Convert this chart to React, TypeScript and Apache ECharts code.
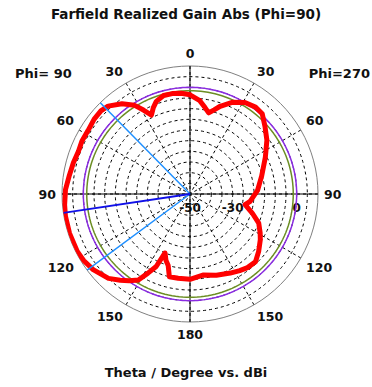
import React, { useEffect, useRef } from "react";
import * as echarts from "echarts";

// Radial scale (dBi) and the labelled radial ticks
const radialMin = -50;
const radialMax = 10;
const radialStep = 5;
const radialLabels = [-50, -30, 0];

// Theta tick labels shown on each half
const thetaStep = 30;

// Phi = 270 half (right side), theta in degrees, realized gain in dBi
const thetaPhi270 = [0, 6, 10, 13, 16, 19, 25, 31, 37, 42, 48, 55, 64, 76, 87, 97, 101, 107, 113, 119, 123, 130, 136, 142, 147, 153, 162, 171, 180];
const gainPhi270 = [-3.5, -6, -9, -11, -9, -6.5, -2.5, 0, 1.0, 0.6, -2.7, -6, -10.7, -15.4, -18.3, -21.6, -23.7, -19.5, -15, -12.4, -10.7, -8, -5.8, -6.2, -7.2, -8.4, -10, -11.5, -10];

// Phi = 90 half (left side)
const thetaPhi90 = [0, 5, 10, 15, 20, 23, 26, 29, 32, 37, 43, 47, 52, 58, 64, 69, 75, 81, 88, 95, 100, 108, 117, 122, 128, 136, 141, 145, 149, 152, 155, 157, 160, 163, 166, 172, 180];
const gainPhi90 = [-3.5, -2.6, -2.2, -2.2, -3.8, -6, -8.8, -5, -1, 3, 6.3, 7.1, 7, 6.3, 6.4, 6, 6.6, 7.2, 8.4, 9.0, 9.3, 9.4, 9.3, 8.8, 7.6, 5, 2, -0.3, -3, -8, -12.5, -20, -17, -15, -10, -10.1, -9.9];

// Main lobe direction and 3 dB angular width (phi = 90 side)
const mainLobeTheta = 98.5;
const beamEdgeThetas = [44.5, 126.5];

// Reference level circles (dBi)
const purpleLevel = 0;
const greenLevel = -1.6;

// angle sampling for reference circles
const circleAngles = Array.from({ length: 181 }, (_, i) => i * 2);

// convert (theta, half) to the angle axis value (axis starts at east, clockwise)
const toAxisAngle = (u: number) => (((u + 270) % 360) + 360) % 360;
const rightAngle = (theta: number) => toAxisAngle(theta);
const leftAngle = (theta: number) => toAxisAngle(360 - theta);

export default function App() {
  const ref = useRef<HTMLDivElement>(null);
  useEffect(() => {
    if (!ref.current) return;
    const chart = echarts.init(ref.current, null, { renderer: "svg" });

    const redData: number[][] = [];
    thetaPhi270.forEach((t, i) => redData.push([gainPhi270[i], rightAngle(t)]));
    for (let i = thetaPhi90.length - 1; i >= 0; i--) {
      redData.push([gainPhi90[i], leftAngle(thetaPhi90[i])]);
    }

    const ringCount = (radialMax - radialMin) / radialStep + 1;
    const ringColors = Array.from({ length: ringCount }, (_, i) =>
      i === ringCount - 1 ? "transparent" : "#000"
    );

    const font = "DejaVu Sans";

    const circle = (level: number) => circleAngles.map((a) => [level, a]);
    const radial = (a: number) => [
      [radialMax, a],
      [radialMin, a],
    ];

    chart.setOption({
      animation: false,
      backgroundColor: "#fff",
      title: [
        {
          text: "Farfield Realized Gain Abs (Phi=90)",
          left: "center",
          top: 7,
          padding: 0,
          textStyle: { fontFamily: font, fontWeight: "bold", fontSize: 13.5, color: "#111" },
        },
        {
          text: "Phi= 90",
          left: 15,
          top: 67,
          padding: 0,
          textStyle: { fontFamily: font, fontWeight: "bold", fontSize: 13, color: "#111" },
        },
        {
          text: "Phi=270",
          right: 2,
          top: 67,
          padding: 0,
          textStyle: { fontFamily: font, fontWeight: "bold", fontSize: 13, color: "#111" },
        },
        {
          text: "Theta / Degree vs. dBi",
          left: "center",
          top: 366,
          padding: 0,
          textStyle: { fontFamily: font, fontWeight: "bold", fontSize: 13, color: "#111" },
        },
      ],
      polar: { center: [190, 194], radius: 128 },
      angleAxis: {
        type: "value",
        min: 0,
        max: 360,
        interval: thetaStep,
        startAngle: 0,
        clockwise: true,
        axisLine: { show: true, lineStyle: { color: "#808080", width: 1 } },
        axisTick: { show: false },
        axisLabel: {
          margin: 6,
          color: "#111",
          fontFamily: font,
          fontWeight: "bold",
          fontSize: 12.5,
          formatter: (v: number) => {
            const u = (v + 90) % 360;
            return String(u <= 180 ? u : 360 - u);
          },
        },
        splitLine: { show: true, lineStyle: { color: "#000", type: [3, 3], width: 1 } },
      },
      radiusAxis: {
        type: "value",
        min: radialMin,
        max: radialMax,
        interval: radialStep,
        axisLine: { show: false },
        axisTick: { show: false },
        axisLabel: {
          color: "#111",
          fontFamily: font,
          fontWeight: "bold",
          fontSize: 12,
          margin: -8,
          verticalAlign: "top",
          align: "center",
          formatter: (v: number) => (radialLabels.includes(v) ? String(v) : ""),
        },
        splitLine: { show: true, lineStyle: { color: ringColors, type: [3, 3], width: 1 } },
      },
      series: [
        {
          type: "line",
          coordinateSystem: "polar",
          data: [radial(rightAngle(0))[0], [radialMin, 0], radial(rightAngle(180))[0]],
          symbol: "none",
          lineStyle: { color: "#000", width: 1 },
          z: 2,
        },
        {
          type: "line",
          coordinateSystem: "polar",
          data: [radial(rightAngle(90))[0], [radialMin, 0], radial(leftAngle(90))[0]],
          symbol: "none",
          lineStyle: { color: "#000", width: 1 },
          z: 2,
        },
        {
          type: "line",
          coordinateSystem: "polar",
          data: circle(greenLevel),
          symbol: "none",
          lineStyle: { color: "#6b8e23", width: 1.5 },
          z: 3,
        },
        {
          type: "line",
          coordinateSystem: "polar",
          data: circle(purpleLevel),
          symbol: "none",
          lineStyle: { color: "#8a2be2", width: 1.5 },
          z: 3,
        },
        {
          type: "line",
          coordinateSystem: "polar",
          data: redData,
          symbol: "none",
          lineStyle: { color: "#ff0000", width: 5, join: "round", cap: "round" },
          z: 4,
        },
        ...beamEdgeThetas.map((t) => ({
          type: "line",
          coordinateSystem: "polar",
          data: radial(leftAngle(t)),
          symbol: "none",
          lineStyle: { color: "#1e8fff", width: 1.5 },
          z: 5,
        })),
        {
          type: "line",
          coordinateSystem: "polar",
          data: radial(leftAngle(mainLobeTheta)),
          symbol: "none",
          lineStyle: { color: "#1010e8", width: 1.8 },
          z: 5,
        },
      ],
    });
    return () => chart.dispose();
  }, []);
  return (
    <div
      ref={ref}
      style={{ position: "absolute", left: 0, top: 0, width: 372, height: 387 }}
    />
  );
}
